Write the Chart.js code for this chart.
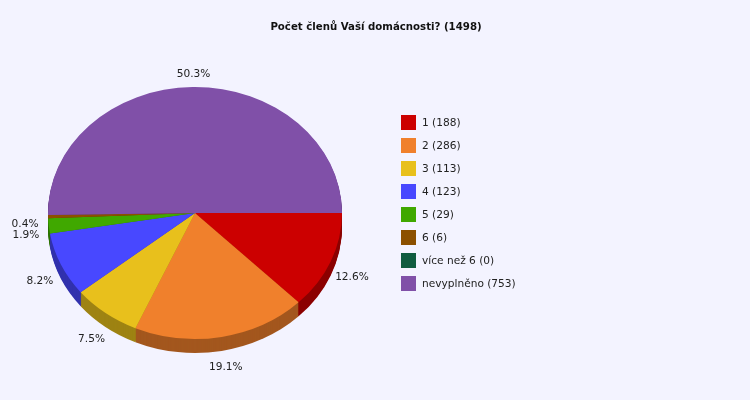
<!DOCTYPE html>
<html lang="cs">
<head>
<meta charset="UTF-8">
<title>Počet členů Vaší domácnosti?</title>
<script src="https://cdn.jsdelivr.net/npm/chart.js"></script>
<style>
  html, body { margin: 0; padding: 0; background: #f3f3ff; }
  #wrap { width: 750px; height: 400px; }
</style>
</head>
<body>
<div id="wrap"><canvas id="chart" width="750" height="400"></canvas></div>

<script>
// data
var title = 'Počet členů Vaší domácnosti? (1498)';
var categories = ['1', '2', '3', '4', '5', '6', 'více než 6', 'nevyplněno'];
var counts = [188, 286, 113, 123, 29, 6, 0, 753];

var colors = ['#cc0000', '#f0802c', '#e8c01c', '#4848ff', '#40a800', '#8c5000', '#105c40', '#8050a8'];

var TILT = 0.857;   // vertical squash of the pie
var DEPTH = 14;     // thickness of the 3d side
var FONT = '10.6px "DejaVu Sans", sans-serif';
var TITLE_FONT = 'bold 10.2px "DejaVu Sans", sans-serif';

function darker(hex, f) {
  var n = parseInt(hex.slice(1), 16);
  var r = Math.round(((n >> 16) & 255) * f);
  var g = Math.round(((n >> 8) & 255) * f);
  var b = Math.round((n & 255) * f);
  return 'rgb(' + r + ',' + g + ',' + b + ')';
}

var total = counts.reduce(function (a, b) { return a + b; }, 0);

var pie3d = {
  id: 'pie3d',
  beforeDatasetsDraw: function (chart) {
    var ctx = chart.ctx;
    var arcs = chart.getDatasetMeta(0).data;
    if (!arcs.length) return;
    var cx = arcs[0].x, cy = arcs[0].y;

    // side of the pie: stacked darker copies
    for (var d = DEPTH; d >= 1; d--) {
      ctx.save();
      ctx.translate(cx, cy + d);
      ctx.scale(1, TILT);
      ctx.translate(-cx, -cy);
      arcs.forEach(function (a, i) {
        if (a.endAngle - a.startAngle <= 0) return;
        ctx.beginPath();
        ctx.moveTo(a.x, a.y);
        ctx.arc(a.x, a.y, a.outerRadius, a.startAngle, a.endAngle);
        ctx.closePath();
        ctx.fillStyle = darker(colors[i], 0.68);
        ctx.fill();
      });
      ctx.restore();
    }

    // squash the top face drawn by the library
    ctx.save();
    ctx.translate(cx, cy);
    ctx.scale(1, TILT);
    ctx.translate(-cx, -cy);
  },
  afterDatasetsDraw: function (chart) {
    var ctx = chart.ctx;
    ctx.restore();

    var arcs = chart.getDatasetMeta(0).data;
    ctx.save();
    ctx.font = FONT;
    ctx.fillStyle = '#222';
    ctx.textAlign = 'center';
    ctx.textBaseline = 'middle';
    arcs.forEach(function (a, i) {
      if (!counts[i]) return;
      var mid = (a.startAngle + a.endAngle) / 2;
      var R = a.outerRadius + 23;
      var s = Math.sin(mid);
      var x = a.x + R * Math.cos(mid);
      var y = a.y + R * s * TILT + 7 + 4 * Math.max(s, 0);
      var pct = (counts[i] / total * 100).toFixed(1) + '%';
      ctx.fillText(pct, x, y);
    });
    ctx.restore();
  },
  afterDraw: function (chart) {
    var ctx = chart.ctx;
    ctx.save();
    // title
    ctx.font = TITLE_FONT;
    ctx.fillStyle = '#111';
    ctx.textAlign = 'center';
    ctx.textBaseline = 'middle';
    ctx.fillText(title, 376, 27);

    // legend
    ctx.font = FONT;
    ctx.textAlign = 'left';
    categories.forEach(function (c, i) {
      var y = 122 + i * 23;
      ctx.fillStyle = colors[i];
      ctx.fillRect(401, y - 7, 15, 15);
      ctx.fillStyle = '#222';
      ctx.fillText(c + ' (' + counts[i] + ')', 422, y + 1);
    });
    ctx.restore();
  }
};

new Chart(document.getElementById('chart'), {
  type: 'pie',
  data: {
    labels: categories,
    datasets: [{
      data: counts,
      backgroundColor: colors,
      borderWidth: 0
    }]
  },
  options: {
    responsive: false,
    animation: false,
    rotation: 90,
    layout: { padding: { left: 48, right: 408, top: 66, bottom: 40 } },
    plugins: {
      legend: { display: false },
      title: { display: false },
      tooltip: { enabled: false }
    },
    events: []
  },
  plugins: [pie3d]
});
</script>
</body>
</html>
